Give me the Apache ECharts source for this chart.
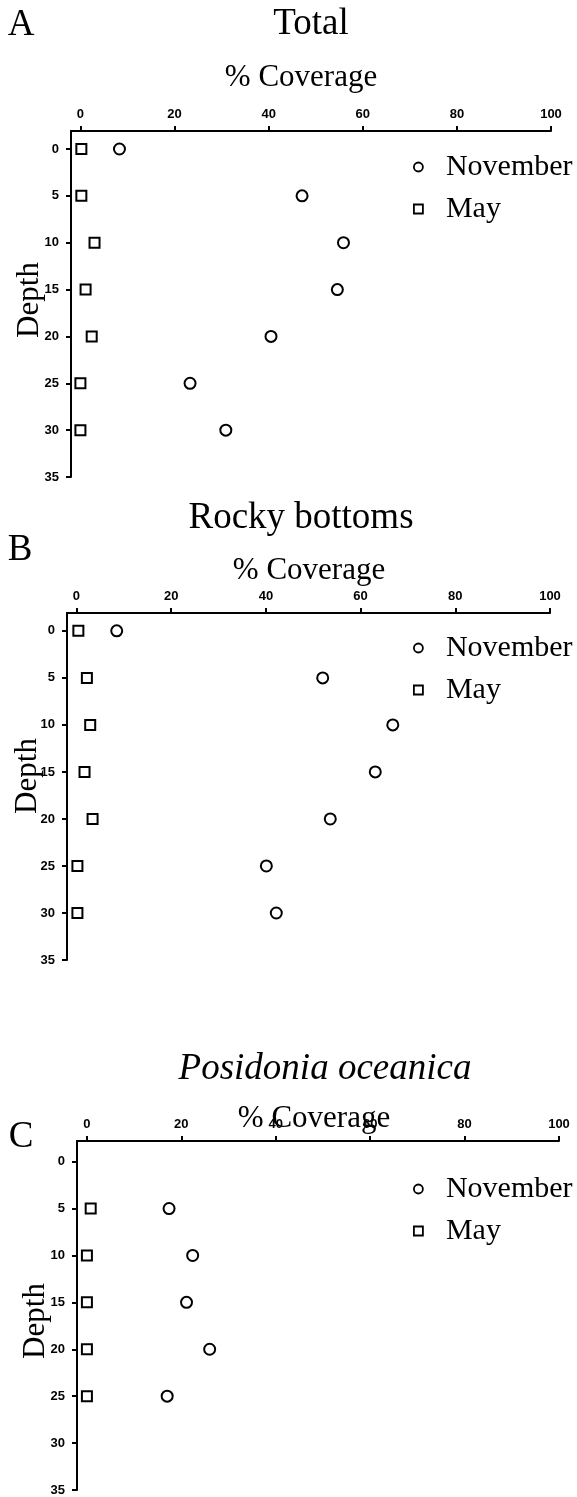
<!DOCTYPE html>
<html>
<head>
<meta charset="utf-8">
<script src="https://cdn.jsdelivr.net/npm/echarts@6/dist/echarts.min.js"></script>
<style>
html,body{margin:0;padding:0;background:#fff;}
#c{width:577px;height:1497px;}
</style>
</head>
<body>
<div id="c"></div>
<script>
// ---- data ----
const depths = [0, 5, 10, 15, 20, 25, 30];
const totalNovember = [8.3, 47.1, 55.9, 54.6, 40.5, 23.3, 30.9];
const totalMay = [0.2, 0.2, 3.0, 1.1, 2.4, 0.0, 0.0];
const rockyNovember = [8.5, 52.0, 66.8, 63.1, 53.6, 40.1, 42.2];
const rockyMay = [0.4, 2.2, 2.9, 1.7, 3.4, 0.2, 0.2];
const posidoniaDepths = [5, 10, 15, 20, 25];
const posidoniaNovember = [17.4, 22.4, 21.1, 26.0, 17.0];
const posidoniaMay = [0.8, 0.0, 0.0, 0.0, 0.0];
const coverageTicks = [0, 20, 40, 60, 80, 100];
const depthTicks = [0, 5, 10, 15, 20, 25, 30, 35];
const panelTitles = ['Total', 'Rocky bottoms', 'Posidonia oceanica'];
const panelLetters = ['A', 'B', 'C'];
const seriesNames = ['November', 'May'];
const xAxisName = '% Coverage';
const yAxisName = 'Depth';

// ---- layout ----
const panels = [
  {grid: {left: 71, right: 26, top: 131, height: 346}, xMin: -2.0, yMin: -1.92,
   depth: depths, nov: totalNovember, may: totalMay, legendTop: 152,
   title: [311, 24, false], letter: [21, 25], xname: [301, 78], yname: [30, 300]},
  {grid: {left: 67, right: 27, top: 613, height: 347}, xMin: -2.0, yMin: -1.9,
   depth: depths, nov: rockyNovember, may: rockyMay, legendTop: 633,
   title: [301, 518, false], letter: [20, 550], xname: [309, 571], yname: [28, 776]},
  {grid: {left: 77, right: 18, top: 1141, height: 349}, xMin: -2.1, yMin: -2.2,
   depth: posidoniaDepths, nov: posidoniaNovember, may: posidoniaMay, legendTop: 1174,
   title: [325, 1069, true], letter: [21, 1137], xname: [314, 1119], yname: [36, 1321]}
];

const serif = '"Liberation Serif", "Times New Roman", serif';
const sans = '"Liberation Sans", Arial, sans-serif';

const grid = [], xAxis = [], yAxis = [], series = [], legend = [], graphic = [];
panels.forEach((p, i) => {
  grid.push(Object.assign({outerBoundsMode: 'none', containLabel: false}, p.grid));
  xAxis.push({
    type: 'value', gridIndex: i, position: 'top', min: p.xMin, max: 100,
    axisLine: {show: true, onZero: false, lineStyle: {color: '#000', width: 2}},
    axisTick: {show: true, length: 5, lineStyle: {color: '#000', width: 2}, customValues: coverageTicks},
    axisLabel: {fontFamily: sans, fontWeight: 'bold', fontSize: 13, color: '#000', margin: 10, customValues: coverageTicks},
    splitLine: {show: false}
  });
  yAxis.push({
    type: 'value', gridIndex: i, inverse: true, min: p.yMin, max: 35,
    axisLine: {show: true, onZero: false, lineStyle: {color: '#000', width: 2}},
    axisTick: {show: true, length: 5, lineStyle: {color: '#000', width: 2}, customValues: depthTicks},
    axisLabel: {fontFamily: sans, fontWeight: 'bold', fontSize: 13, color: '#000', margin: 12, customValues: depthTicks},
    splitLine: {show: false}
  });
  series.push({
    name: seriesNames[0], type: 'scatter', xAxisIndex: i, yAxisIndex: i,
    symbol: 'circle', symbolSize: 11,
    itemStyle: {color: '#fff', borderColor: '#000', borderWidth: 2, opacity: 1},
    data: p.depth.map((d, k) => [p.nov[k], d])
  });
  series.push({
    name: seriesNames[1], type: 'scatter', xAxisIndex: i, yAxisIndex: i,
    symbol: 'rect', symbolSize: 10,
    itemStyle: {color: '#fff', borderColor: '#000', borderWidth: 2, opacity: 1},
    data: p.depth.map((d, k) => [p.may[k], d])
  });
  legend.push({
    data: seriesNames, orient: 'vertical', left: 413, top: p.legendTop,
    itemWidth: 9, itemHeight: 9, itemGap: 12, padding: 0,
    selectedMode: false,
    itemStyle: {color: '#fff', borderColor: '#000', borderWidth: 1.8},
    textStyle: {fontFamily: serif, fontSize: 30, color: '#000', lineHeight: 30, padding: [0, 0, 0, 18]}
  });
  graphic.push({
    type: 'text', x: p.title[0], y: p.title[1],
    style: {text: panelTitles[i], fontFamily: serif, fontSize: 37,
      fontStyle: p.title[2] ? 'italic' : 'normal', fill: '#000',
      textAlign: 'center', textVerticalAlign: 'middle'}
  });
  graphic.push({
    type: 'text', x: p.letter[0], y: p.letter[1],
    style: {text: panelLetters[i], fontFamily: serif, fontSize: 37, fill: '#000',
      textAlign: 'center', textVerticalAlign: 'middle'}
  });
  graphic.push({
    type: 'text', x: p.xname[0], y: p.xname[1],
    style: {text: xAxisName, fontFamily: serif, fontSize: 31, fill: '#000',
      textAlign: 'center', textVerticalAlign: 'middle'}
  });
  graphic.push({
    type: 'text', x: p.yname[0], y: p.yname[1], rotation: Math.PI / 2,
    style: {text: yAxisName, fontFamily: serif, fontSize: 31, fill: '#000',
      textAlign: 'center', textVerticalAlign: 'middle'}
  });
});

const chart = echarts.init(document.getElementById('c'), null, {renderer: 'canvas'});
chart.setOption({
  backgroundColor: '#fff',
  animation: false,
  grid, xAxis, yAxis, series, legend, graphic
});
</script>
</body>
</html>
